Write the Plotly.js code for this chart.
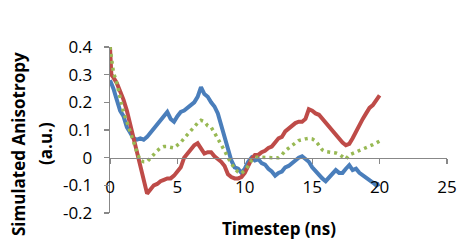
<!DOCTYPE html>
<html>
<head>
<meta charset="utf-8">
<script src="https://cdn.plot.ly/plotly-3.0.1.min.js"></script>
<style>html,body{margin:0;padding:0;background:#fff;}#chart{width:473px;height:242px;}</style>
</head>
<body>
<div id="chart"></div>
<script>
// Series 1 (blue)
const blueTime = [0,0.25,0.5,0.75,1,1.25,1.5,1.75,2,2.25,2.5,2.75,3,3.25,3.5,3.75,4,4.25,4.5,4.75,5,5.25,5.5,5.75,6,6.25,6.5,6.75,7,7.25,7.5,7.75,8,8.25,8.5,8.75,9,9.25,9.5,9.75,10,10.25,10.5,10.75,11,11.25,11.5,11.75,12,12.25,12.5,12.75,13,13.25,13.5,13.75,14,14.25,14.5,14.75,15,15.25,15.5,15.75,16,16.25,16.5,16.75,17,17.25,17.5,17.75,18,18.25,18.5,18.75,19,19.25,19.5,19.75,20];
const blueValues = [0.28,0.25,0.21,0.17,0.15,0.11,0.09,0.07,0.065,0.07,0.065,0.075,0.09,0.105,0.12,0.14,0.15,0.165,0.14,0.13,0.15,0.165,0.17,0.18,0.19,0.2,0.22,0.255,0.23,0.22,0.2,0.185,0.16,0.12,0.08,0.03,-0.01,-0.035,-0.04,-0.055,-0.04,-0.015,0.0,-0.01,-0.005,-0.02,-0.025,-0.04,-0.05,-0.065,-0.055,-0.05,-0.035,-0.03,-0.02,-0.01,0.0,0.005,-0.005,-0.015,-0.035,-0.05,-0.06,-0.075,-0.085,-0.07,-0.06,-0.045,-0.055,-0.055,-0.04,-0.027,-0.045,-0.04,-0.055,-0.063,-0.07,-0.08,-0.09,-0.1,-0.095];
// Series 2 (red)
const redTime = [0,0.1,0.25,0.5,0.75,1,1.25,1.5,1.75,2,2.25,2.5,2.75,3,3.25,3.5,3.75,4,4.25,4.5,4.75,5,5.25,5.5,5.75,6,6.25,6.5,6.75,7,7.25,7.5,7.75,8,8.25,8.5,8.75,9,9.25,9.5,9.75,10,10.25,10.5,10.75,11,11.25,11.5,11.75,12,12.25,12.5,12.75,13,13.25,13.5,13.75,14,14.25,14.5,14.75,15,15.25,15.5,15.75,16,16.25,16.5,16.75,17,17.25,17.5,17.75,18,18.25,18.5,18.75,19,19.25,19.5,19.75,20];
const redValues = [0.4,0.3,0.29,0.27,0.24,0.21,0.17,0.12,0.075,0.01,-0.04,-0.09,-0.13,-0.115,-0.1,-0.095,-0.085,-0.08,-0.075,-0.075,-0.065,-0.05,-0.035,0.0,0.015,0.03,0.045,0.052,0.035,0.015,0.02,0.02,0.005,-0.005,-0.015,-0.03,-0.06,-0.07,-0.075,-0.075,-0.07,-0.055,-0.03,-0.005,0.01,0.01,0.02,0.025,0.035,0.04,0.055,0.07,0.075,0.095,0.105,0.115,0.125,0.13,0.13,0.14,0.175,0.17,0.16,0.155,0.14,0.13,0.115,0.1,0.08,0.065,0.055,0.045,0.05,0.07,0.095,0.12,0.14,0.16,0.18,0.19,0.21,0.225];
// Series 3 (green, dotted)
const greenTime = [0,0.25,0.5,0.75,1,1.25,1.5,1.75,2,2.25,2.5,2.75,3,3.25,3.5,3.75,4,4.25,4.5,4.75,5,5.25,5.5,5.75,6,6.25,6.5,6.75,7,7.25,7.5,7.75,8,8.25,8.5,8.75,9,9.25,9.5,9.75,10,10.25,10.5,10.75,11,11.5,12,12.5,12.75,13,13.25,13.5,13.75,14,14.5,14.75,15,15.25,15.5,15.75,16,16.5,16.75,17,17.25,17.5,17.75,18,18.5,19,19.5,20];
const greenValues = [0.4,0.31,0.27,0.21,0.165,0.13,0.09,0.055,0.02,-0.01,-0.015,-0.015,0.0,0.015,0.025,0.035,0.04,0.04,0.037,0.035,0.045,0.055,0.07,0.085,0.1,0.115,0.125,0.135,0.13,0.115,0.11,0.09,0.07,0.05,0.025,0.0,-0.02,-0.04,-0.052,-0.057,-0.045,-0.03,-0.01,0.0,0.002,0.0,0.0,0.0,0.01,0.025,0.035,0.045,0.055,0.062,0.068,0.07,0.068,0.06,0.045,0.028,0.022,0.02,0.017,0.012,0.003,-0.005,0.01,0.015,0.025,0.035,0.047,0.06];
// Axis ticks
const xTickVals = [0,5,10,15,20,25];
const yTickVals = [-0.2,-0.1,0,0.1,0.2,0.3,0.4];
const yTickText = ['-0.2','-0.1','0','0.1','0.2','0.3','0.4'];
const xTitle = 'Timestep (ns)';
const yTitleLine1 = 'Simulated Anisotropy';
const yTitleLine2 = '(a.u.)';

const FONT = '"Open Sans", "Liberation Sans", sans-serif';
const W = 473, H = 242, ML = 110, MR = 26, MT = 47, MB = 29;
const PW = W - ML - MR, PH = H - MT - MB;
const px = x => (x - ML) / PW;
const py = y => (H - MB - y) / PH;

const traces = [
  {x: blueTime, y: blueValues, mode: 'lines', line: {color: '#4a7ebb', width: 4}, hoverinfo: 'none'},
  {x: redTime, y: redValues, mode: 'lines', line: {color: '#be4b48', width: 4}, hoverinfo: 'none'},
  {x: greenTime, y: greenValues, mode: 'lines', line: {color: '#98b954', width: 3.5, dash: '3px,4px'}, hoverinfo: 'none'}
];

const layout = {
  width: W, height: H,
  margin: {l: ML, r: MR, t: MT, b: MB, pad: 0},
  paper_bgcolor: '#ffffff', plot_bgcolor: '#ffffff',
  showlegend: false,
  font: {family: FONT, size: 17, color: '#000'},
  xaxis: {
    range: [0, 25], tickvals: xTickVals, ticktext: xTickVals.map(String),
    anchor: 'free', position: 1/3,
    showline: true, linecolor: '#888888', linewidth: 1.3,
    ticks: 'outside', ticklen: 5, tickcolor: '#888888', tickwidth: 1.3,
    ticklabelstandoff: 9,
    showgrid: false, zeroline: false,
    tickfont: {family: FONT, size: 17, color: '#000'}
  },
  yaxis: {
    range: [-0.2, 0.4], tickvals: yTickVals, ticktext: yTickText,
    showline: true, linecolor: '#888888', linewidth: 1.3,
    ticks: 'outside', ticklen: 5, tickcolor: '#888888', tickwidth: 1.3,
    ticklabelstandoff: 8,
    showgrid: false, zeroline: false,
    tickfont: {family: FONT, size: 17, color: '#000'}
  },
  annotations: [
    {text: '<b>' + xTitle + '</b>', xref: 'paper', yref: 'paper', x: px(278.5), y: py(228), xanchor: 'center', yanchor: 'middle', showarrow: false, font: {family: FONT, size: 17, color: '#000'}},
    {text: '<b>' + yTitleLine1 + '</b>', xref: 'paper', yref: 'paper', x: px(18), y: py(144), xanchor: 'center', yanchor: 'middle', textangle: -90, showarrow: false, font: {family: FONT, size: 17, color: '#000'}},
    {text: '<b>' + yTitleLine2 + '</b>', xref: 'paper', yref: 'paper', x: px(45), y: py(144), xanchor: 'center', yanchor: 'middle', textangle: -90, showarrow: false, font: {family: FONT, size: 17, color: '#000'}}
  ]
};

Plotly.newPlot('chart', traces, layout, {staticPlot: true, displayModeBar: false});
</script>
</body>
</html>
